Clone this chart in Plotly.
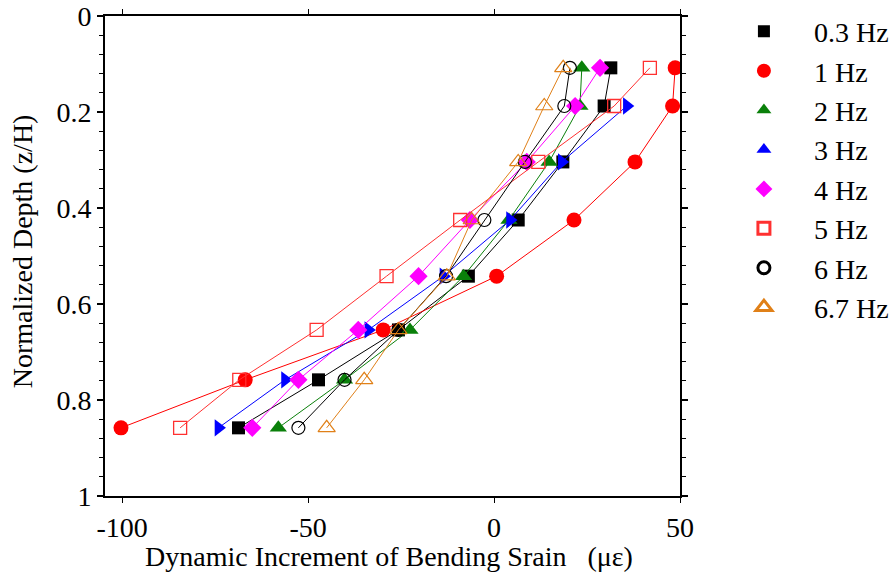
import plotly.graph_objects as go

# Normalized depth levels (z/H)
depth = [0.108, 0.1875, 0.304, 0.425, 0.542, 0.654, 0.758, 0.858]

# Dynamic increment of bending strain (micro-strain) per frequency
s_03 = [31.4, 29.6, 18.5, 6.5, -6.9, -25.7, -47.2, -68.7]
s_1 = [48.7, 48.0, 37.9, 21.5, 0.7, -29.8, -66.9, -100.3]
s_2 = [23.6, 23.1, 14.8, 4.0, -8.2, -22.6, -40.2, -58.0]
s_3 = [None, 35.7, 18.2, 4.3, -13.6, -33.8, -56.2, -74.1]
s_4 = [28.5, 21.8, 8.8, -6.5, -20.3, -36.5, -52.6, -65.0]
s_5 = [41.9, 32.3, 11.9, -9.1, -28.9, -47.7, -68.5, -84.4]
s_6 = [20.4, 18.9, 8.3, -2.6, -12.9, -25.7, -40.2, -52.6]
s_67 = [18.6, 13.5, 6.5, -6.0, -12.7, -25.7, -34.9, -45.0]

names = ["0.3 Hz", "1 Hz", "2 Hz", "3 Hz", "4 Hz", "5 Hz", "6 Hz", "6.7 Hz"]
xticks = [-100, -50, 0, 50]
yticks = [0, 0.2, 0.4, 0.6, 0.8, 1]
yticklabels = ["0", "0.2", "0.4", "0.6", "0.8", "1"]
x_title = "Dynamic Increment of Bending Srain\u00a0\u00a0\u00a0(\u03bc\u03b5)"
y_title = "Normalized Depth (z/H)"

series = [s_03, s_1, s_2, s_3, s_4, s_5, s_6, s_67]

# style per series: (color, plot symbol, plot size, legend symbol, legend size, marker line width in plot, legend line width)
styles = [
    ("#000000", "square", 13, "square", 12, 0, 0),
    ("#ff0000", "circle", 15, "circle", 14, 0, 0),
    ("#0a800a", "triangle-up", 15, "triangle-up", 13, 0, 0),
    ("#0000ff", "triangle-right", 15, "triangle-up", 13, 0, 0),
    ("#ff00ff", "diamond", 14, "diamond", 13, 0, 0),
    ("#ff3030", "square-open", 13, "square-open", 12, 1.3, 3),
    ("#000000", "circle-open", 13, "circle-open", 12, 1.2, 3),
    ("#e08018", "triangle-up-open", 15, "triangle-up-open", 14, 1.2, 3),
]

FONT = "Liberation Serif, Times New Roman, serif"

fig = go.Figure()

for name, vals, st in zip(names, series, styles):
    color, sym, size, lsym, lsize, mlw, llw = st
    fig.add_trace(go.Scatter(
        x=vals, y=depth, mode="lines+markers", name=name,
        line=dict(color=color, width=1),
        marker=dict(symbol=sym, size=size, color=color,
                    line=dict(color=color, width=mlw)),
        connectgaps=False, showlegend=False,
    ))

for name, st in zip(names, styles):
    color, sym, size, lsym, lsize, mlw, llw = st
    fig.add_trace(go.Scatter(
        x=[None], y=[None], mode="markers", name=name,
        marker=dict(symbol=lsym, size=lsize, color=color,
                    line=dict(color=color, width=llw)),
        showlegend=True,
    ))

fig.update_layout(
    width=896, height=579,
    margin=dict(l=105, r=216, t=16, b=83, autoexpand=False),
    paper_bgcolor="white", plot_bgcolor="white",
    font=dict(family=FONT, size=28, color="black"),
    showlegend=True,
    legend=dict(
        x=1.059, xref="paper", xanchor="left",
        y=0.68, yref="paper", yanchor="middle",
        font=dict(family=FONT, size=28, color="black"),
        itemwidth=90, tracegroupgap=0,
        bgcolor="rgba(0,0,0,0)", borderwidth=0,
    ),
    xaxis=dict(
        range=[-104.6, 50], tickvals=xticks, ticktext=[str(v) for v in xticks],
        showgrid=False, zeroline=False,
        showline=True, linecolor="black", linewidth=2, mirror="ticks",
        ticks="outside", ticklen=5, tickwidth=1, tickcolor="black",
        tickfont=dict(family=FONT, size=28), ticklabeloverflow="allow",
    ),
    yaxis=dict(
        range=[1, 0], tickvals=yticks, ticktext=yticklabels,
        showgrid=False, zeroline=False,
        showline=True, linecolor="black", linewidth=2, mirror="ticks",
        ticks="outside", ticklen=6, tickwidth=1.5, tickcolor="black",
        tickfont=dict(family=FONT, size=28), ticklabeloverflow="allow",
        minor=dict(dtick=0.04, tick0=0, ticks="outside", ticklen=4, tickwidth=1, tickcolor="black", showgrid=False),
    ),
    annotations=[
        dict(text=x_title, xref="paper", yref="paper", x=0.494, y=-0.127,
             xanchor="center", yanchor="middle", showarrow=False,
             font=dict(family=FONT, size=28, color="black")),
        dict(text=y_title, xref="paper", yref="paper", x=-0.1443, y=0.51,
             xanchor="center", yanchor="middle", showarrow=False, textangle=-90,
             font=dict(family=FONT, size=28, color="black")),
    ],
)

# remove the default 8px page margin so the figure fills the window exactly
fig.write_html(
    "out.html",
    config={"displayModeBar": False},
    post_script="document.body.style.margin='0px';document.body.style.overflow='hidden';",
)
